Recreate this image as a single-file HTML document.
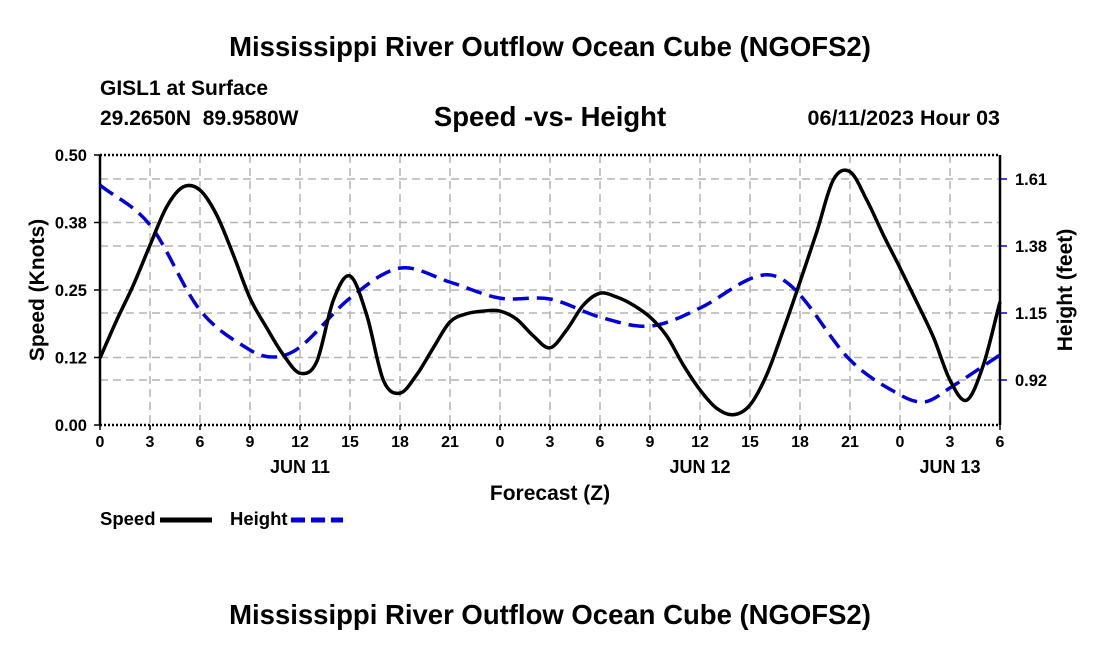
<!DOCTYPE html>
<html><head><meta charset="utf-8"><style>
body{margin:0;background:#fff;}
svg{display:block;font-family:"Liberation Sans",Arial,sans-serif;font-weight:bold;}
</style></head><body>
<svg id="chart" width="1100" height="650" viewBox="0 0 1100 650">
<text x="550" y="56" text-anchor="middle" font-size="27.5">Mississippi River Outflow Ocean Cube (NGOFS2)</text>
<text x="100" y="95" font-size="21">GISL1 at Surface</text>
<text x="100" y="125" font-size="21">29.2650N&#160;&#160;89.9580W</text>
<text x="550" y="126" text-anchor="middle" font-size="27.5">Speed -vs- Height</text>
<text x="1000" y="125" text-anchor="end" font-size="21.5">06/11/2023 Hour 03</text>
<g id="grid"></g>
<g id="axes"></g>
<g id="series"></g>
<text x="550" y="500" text-anchor="middle" font-size="21">Forecast (Z)</text>
<text transform="translate(44,290) rotate(-90)" text-anchor="middle" font-size="21">Speed (Knots)</text>
<text transform="translate(1072,290) rotate(-90)" text-anchor="middle" font-size="21">Height (feet)</text>
<g>
<text x="100" y="525" font-size="18.5">Speed</text>
<line x1="160" y1="520" x2="212" y2="520" stroke="#000" stroke-width="5"/>
<text x="230" y="525" font-size="18.5">Height</text>
<line x1="291" y1="520" x2="343" y2="520" stroke="#0000dd" stroke-width="5" stroke-dasharray="14,6"/>
</g>
<text x="550" y="624" text-anchor="middle" font-size="27.5">Mississippi River Outflow Ocean Cube (NGOFS2)</text>
</svg>
<script>
const xTickLabels=["0","3","6","9","12","15","18","21","0","3","6","9","12","15","18","21","0","3","6"];
const dayLabels=["JUN 11","JUN 12","JUN 13"];
const dayHours=[12,36,51];
const speedTicks=[0,0.125,0.25,0.375,0.5];
const speedTickLabels=["0.00","0.12","0.25","0.38","0.50"];
const heightTicks=[0.92,1.15,1.38,1.61];
const heightTickLabels=["0.92","1.15","1.38","1.61"];
const speedValues=[0.124,0.194,0.259,0.333,0.404,0.441,0.435,0.389,0.315,0.235,0.180,0.130,0.096,0.117,0.231,0.276,0.204,0.083,0.059,0.093,0.143,0.191,0.206,0.211,0.211,0.196,0.165,0.143,0.176,0.222,0.244,0.237,0.222,0.200,0.165,0.111,0.065,0.031,0.019,0.037,0.093,0.176,0.265,0.357,0.454,0.469,0.417,0.352,0.291,0.228,0.163,0.083,0.046,0.111,0.228];
const heightHours=[0,3,6,9,10.5,12,15,18,21,24,27,30,33,36,39,40.5,42,45,48,49.5,51,54];
const heightValues=[1.589,1.452,1.160,1.023,0.999,1.033,1.201,1.304,1.256,1.201,1.198,1.136,1.105,1.167,1.267,1.277,1.212,0.989,0.869,0.845,0.893,1.006];

const NS="http://www.w3.org/2000/svg";
const X0=100,X1=1000,YT=155,YB=425;
const x=h=>X0+h*(X1-X0)/54;
const yS=v=>YB-v*(YB-YT)/0.5;
const yH=f=>380-(f-0.92)*67/0.23;
function mk(tag,attrs,parent){const e=document.createElementNS(NS,tag);for(const k in attrs)e.setAttribute(k,attrs[k]);parent.appendChild(e);return e;}
const grid=document.getElementById('grid'),axes=document.getElementById('axes'),series=document.getElementById('series');
const gs={stroke:"#b4b4b4","stroke-width":1.5,"stroke-dasharray":"8,5"};
xTickLabels.forEach((t,i)=>{const h=i*3;
 if(i>0&&i<xTickLabels.length-1){const g=mk('line',Object.assign({x1:x(h),x2:x(h),y1:YT,y2:YB},gs),grid);
 
 }
 const tk=mk('line',{x1:x(h),x2:x(h),y1:YB,y2:YB+5,stroke:"#000","stroke-width":1.5},axes);
 
 
 const tx=mk('text',{x:x(h),y:YB+22,"text-anchor":"middle","font-size":16},axes);tx.textContent=t;
 
 
});
dayLabels.forEach((d,i)=>{const t=mk('text',{x:x(dayHours[i]),y:473,"text-anchor":"middle","font-size":18},axes);t.textContent=d;
 
 });
speedTicks.forEach((v,i)=>{
 if(i>0&&i<speedTicks.length-1){const g=mk('line',Object.assign({x1:X0,x2:X1,y1:yS(v),y2:yS(v)},gs),grid);
 
 }
 mk('line',{x1:X0-6,x2:X0,y1:yS(v),y2:yS(v),stroke:"#000","stroke-width":1.5},axes);
 const t=mk('text',{x:X0-13,y:yS(v)+6,"text-anchor":"end","font-size":16.5},axes);t.textContent=speedTickLabels[i];
 
 });
heightTicks.forEach((f,i)=>{
 const g=mk('line',Object.assign({x1:X0,x2:X1,y1:yH(f),y2:yH(f)},gs),grid);
 
 
 mk('line',{x1:X1,x2:X1+7,y1:yH(f),y2:yH(f),stroke:"#0000dd","stroke-width":1.5},axes);
 const t=mk('text',{x:X1+15,y:yH(f)+6,"font-size":16.5},axes);t.textContent=heightTickLabels[i];
 
 });
const frame=[["top-border",X0,YT,X1,YT],["bottom-border",X0,YB,X1,YB]];
frame.forEach(f=>{const l=mk('line',{x1:f[1],y1:f[2],x2:f[3],y2:f[4],stroke:"#000","stroke-width":2.5,"stroke-dasharray":"2,2"},axes);
 
 });
const la=mk('line',{x1:X0,y1:YT,x2:X0,y2:YB,stroke:"#000","stroke-width":2.5},axes);


const ra=mk('line',{x1:X1,y1:YT,x2:X1,y2:YB,stroke:"#000","stroke-width":2.5},axes);


function smooth(pts){const n=pts.length,m=[];
 for(let i=0;i<n;i++){const a=pts[Math.max(0,i-1)],b=pts[Math.min(n-1,i+1)];m.push((b[1]-a[1])/(b[0]-a[0]));}
 let d="M"+pts[0][0]+","+pts[0][1];
 for(let i=0;i<n-1;i++){const p1=pts[i],p2=pts[i+1],dx=(p2[0]-p1[0])/3;
  d+=" C"+(p1[0]+dx)+","+(p1[1]+m[i]*dx)+" "+(p2[0]-dx)+","+(p2[1]-m[i+1]*dx)+" "+p2[0]+","+p2[1];}
 return d;}
const hp=mk('path',{d:smooth(heightHours.map((h,i)=>[x(h),yH(heightValues[i])])),fill:"none",stroke:"#0000dd","stroke-width":3.5,"stroke-dasharray":"16,8"},series);


const sp=mk('path',{d:smooth(speedValues.map((v,i)=>[x(i),yS(v)])),fill:"none",stroke:"#000","stroke-width":3.5,"stroke-linejoin":"round"},series);


</script>
</body></html>
